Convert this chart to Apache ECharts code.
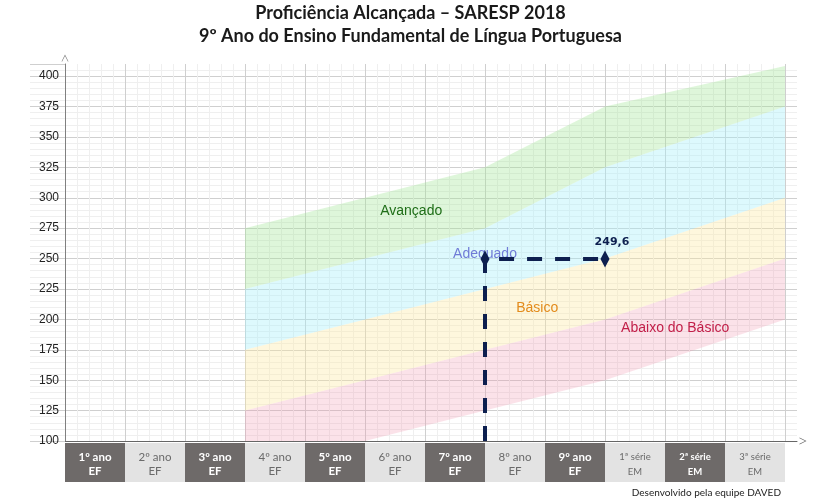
<!DOCTYPE html>
<html>
<head>
<meta charset="utf-8">
<script src="https://cdn.jsdelivr.net/npm/echarts@6/dist/echarts.min.js"></script>
<style>
  html, body { margin: 0; padding: 0; background: #fff; }
  #main { width: 821px; height: 504px; }
</style>
</head>
<body>
<div id="main"></div>
<script>
// categories (x axis boxes)
const gradeNames = ['1º ano', '2º ano', '3º ano', '4º ano', '5º ano', '6º ano', '7º ano', '8º ano', '9º ano', '1ª série', '2ª série', '3ª série'];
const gradeStages = ['EF', 'EF', 'EF', 'EF', 'EF', 'EF', 'EF', 'EF', 'EF', 'EM', 'EM', 'EM'];

// band edges, read at grade positions (end of 3º, 5º, 7º, 9º ano and 3ª série)
const bandX = [3, 5, 7, 9, 12];
const abaixoLow = [75, 100, 125, 150, 200];
const basicoLow = [125, 150, 175, 200, 250];
const adequadoLow = [175, 200, 225, 250, 300];
const avancadoLow = [225, 250, 275, 325, 375];
const avancadoTop = [275, 300, 325, 375, 425];

// result
const proficiency = 249.6;
const resultGrade = 9;
const levelGrade = 7;

// level labels [x, y] in chart units
const levelNames = ['Avançado', 'Adequado', 'Básico', 'Abaixo do Básico'];
const levelLabelX = [5.77, 7.0, 7.87, 10.17];
const levelLabelY = [289, 254, 209, 193];

const yTicks = [100, 125, 150, 175, 200, 225, 250, 275, 300, 325, 350, 375, 400];

var chartDom = document.getElementById('main');
var myChart = echarts.init(chartDom);

const levelColors = ['#1f6e18', '#6f7bd6', '#e38b1c', '#c21f49'];
const bandColors = ['rgba(240,150,175,0.28)', 'rgba(252,232,160,0.36)', 'rgba(165,240,250,0.38)', 'rgba(160,230,150,0.35)'];

// lower / upper edge of each band: Abaixo, Básico, Adequado, Avançado
const bandEdges = [
  [abaixoLow, basicoLow],
  [basicoLow, adequadoLow],
  [adequadoLow, avancadoLow],
  [avancadoLow, avancadoTop]
];

const arrowUp = 'path://M0,10 L5,0 L10,10 L9,10 L5,2 L1,10 Z';
const font = 'Liberation Sans';
const boxFont = 'Lato';

function boxStyle(bg, color, size, bold) {
  const base = { backgroundColor: bg, color: color, width: 60, align: 'center', fontSize: size, fontFamily: boxFont, fontWeight: bold ? 'bold' : 'normal' };
  return {
    top: Object.assign({ height: 16, lineHeight: 22, padding: [6, 0, 0, 0] }, base),
    bot: Object.assign({ height: 13, lineHeight: 17, padding: [0, 0, 4, 0] }, base)
  };
}
const dk = boxStyle('#6e6a69', '#ffffff', 11.5, true);
const lt = boxStyle('#e3e3e3', '#6a6a6a', 11.5, false);
const dks = boxStyle('#6e6a69', '#ffffff', 9.5, true);
const lts = boxStyle('#e3e3e3', '#6a6a6a', 9.5, false);

function renderBand(params, api) {
  const edges = bandEdges[params.dataIndex];
  const cs = params.coordSys;
  const pts = [];
  bandX.forEach((x, i) => pts.push(api.coord([x, edges[0][i]])));
  for (let i = bandX.length - 1; i >= 0; i--) pts.push(api.coord([bandX[i], edges[1][i]]));
  const clipped = pts.map(p => [
    Math.min(Math.max(p[0], cs.x), cs.x + cs.width),
    Math.min(Math.max(p[1], cs.y + 2), cs.y + cs.height)
  ]);
  return {
    type: 'polygon',
    shape: { points: clipped },
    style: { fill: bandColors[params.dataIndex] },
    silent: true
  };
}

var series = [
  {
    type: 'custom',
    renderItem: renderBand,
    data: bandEdges.map((e, i) => i),
    silent: true,
    z: 1
  },
  {
    type: 'line',
    data: [[levelGrade, yTicks[0]], [levelGrade, proficiency], [resultGrade, proficiency]],
    symbol: 'none',
    lineStyle: { color: '#0d1f4f', width: 4, type: [15, 13] },
    z: 5
  },
  {
    type: 'scatter',
    data: [[levelGrade, proficiency], [resultGrade, proficiency]],
    symbol: 'diamond',
    symbolSize: [9, 17],
    itemStyle: { color: '#0d1f4f', opacity: 1 },
    label: {
      show: true,
      position: 'top',
      offset: [7, 2],
      color: '#0d1f4f',
      fontWeight: 'bold',
      fontSize: 11,
      fontFamily: 'DejaVu Sans',
      formatter: p => p.dataIndex === 1 ? String(p.value[1]).replace('.', ',') : ''
    },
    z: 6
  },
  {
    type: 'scatter',
    data: levelNames.map((n, i) => ({
      name: n,
      value: [levelLabelX[i], levelLabelY[i]],
      label: { color: levelColors[i] }
    })),
    symbolSize: 1,
    itemStyle: { color: 'rgba(0,0,0,0)', opacity: 1 },
    label: {
      show: true,
      position: 'inside',
      formatter: p => p.name,
      fontSize: 14,
      fontFamily: font
    },
    z: 4
  }
];

var option = {
  animation: false,
  backgroundColor: '#ffffff',
  title: {
    text: 'Proficiência Alcançada – SARESP 2018\n9º Ano do Ensino Fundamental de Língua Portuguesa',
    left: 'center',
    top: -3,
    textStyle: { fontSize: 18, fontWeight: 'bold', fontFamily: boxFont, color: '#1a1a1a', lineHeight: 23 }
  },
  graphic: [{
    type: 'text',
    right: 40,
    bottom: 6,
    style: { text: 'Desenvolvido pela equipe DAVED', fontSize: 10, fontFamily: boxFont, fill: '#222' }
  }],
  grid: [
    { left: 65, right: 24, top: 64, bottom: 63 },
    { left: 65, width: 720, bottom: 63, height: 1 }
  ],
  xAxis: [
    {
      type: 'value',
      gridIndex: 0,
      min: 0,
      max: 12.2,
      interval: 1,
      axisLabel: { show: false },
      axisTick: { show: false },
      axisLine: { show: true, lineStyle: { color: '#666', width: 1 }, symbol: ['none', arrowUp], symbolSize: [9, 7], symbolOffset: [0, 6] },
      splitLine: { show: true, showMaxLine: false, lineStyle: { color: '#cfcfcf' } },
      minorTick: { show: false, splitNumber: 5 },
      minorSplitLine: { show: true, lineStyle: { color: '#efefef' } }
    },
    {
      type: 'category',
      gridIndex: 1,
      data: gradeNames,
      axisLine: { show: false },
      axisTick: { show: false },
      axisLabel: {
        interval: 0,
        margin: 2,
        formatter: (v, i) => {
          const dark = i % 2 === 0;
          const small = gradeStages[i] === 'EM';
          const key = (dark ? 'd' : 'l') + (small ? 's' : '');
          return '{' + key + 't|' + v + '}\n{' + key + 'b|' + gradeStages[i] + '}';
        },
        rich: {
          dt: dk.top, db: dk.bot,
          lt: lt.top, lb: lt.bot,
          dst: dks.top, dsb: dks.bot,
          lst: lts.top, lsb: lts.bot
        }
      }
    }
  ],
  yAxis: [
    {
      type: 'value',
      gridIndex: 0,
      min: yTicks[0],
      max: 410,
      interval: 25,
      axisLine: { show: true, lineStyle: { color: '#808080', width: 1 }, symbol: ['none', arrowUp], symbolSize: [9, 7], symbolOffset: [0, 6] },
      axisTick: { show: true, length: 35, lineStyle: { color: '#cfcfcf' } },
      minorTick: { show: true, splitNumber: 5, length: 35, lineStyle: { color: '#efefef' } },
      axisLabel: { showMaxLabel: false, fontSize: 12, color: '#222', fontFamily: font, margin: 6 },
      splitLine: { show: true, showMaxLine: false, lineStyle: { color: '#cfcfcf' } },
      minorSplitLine: { show: true, lineStyle: { color: '#efefef' } }
    },
    {
      type: 'value',
      gridIndex: 1,
      show: false
    }
  ],
  series: series
};

option && myChart.setOption(option);
</script>
</body>
</html>
